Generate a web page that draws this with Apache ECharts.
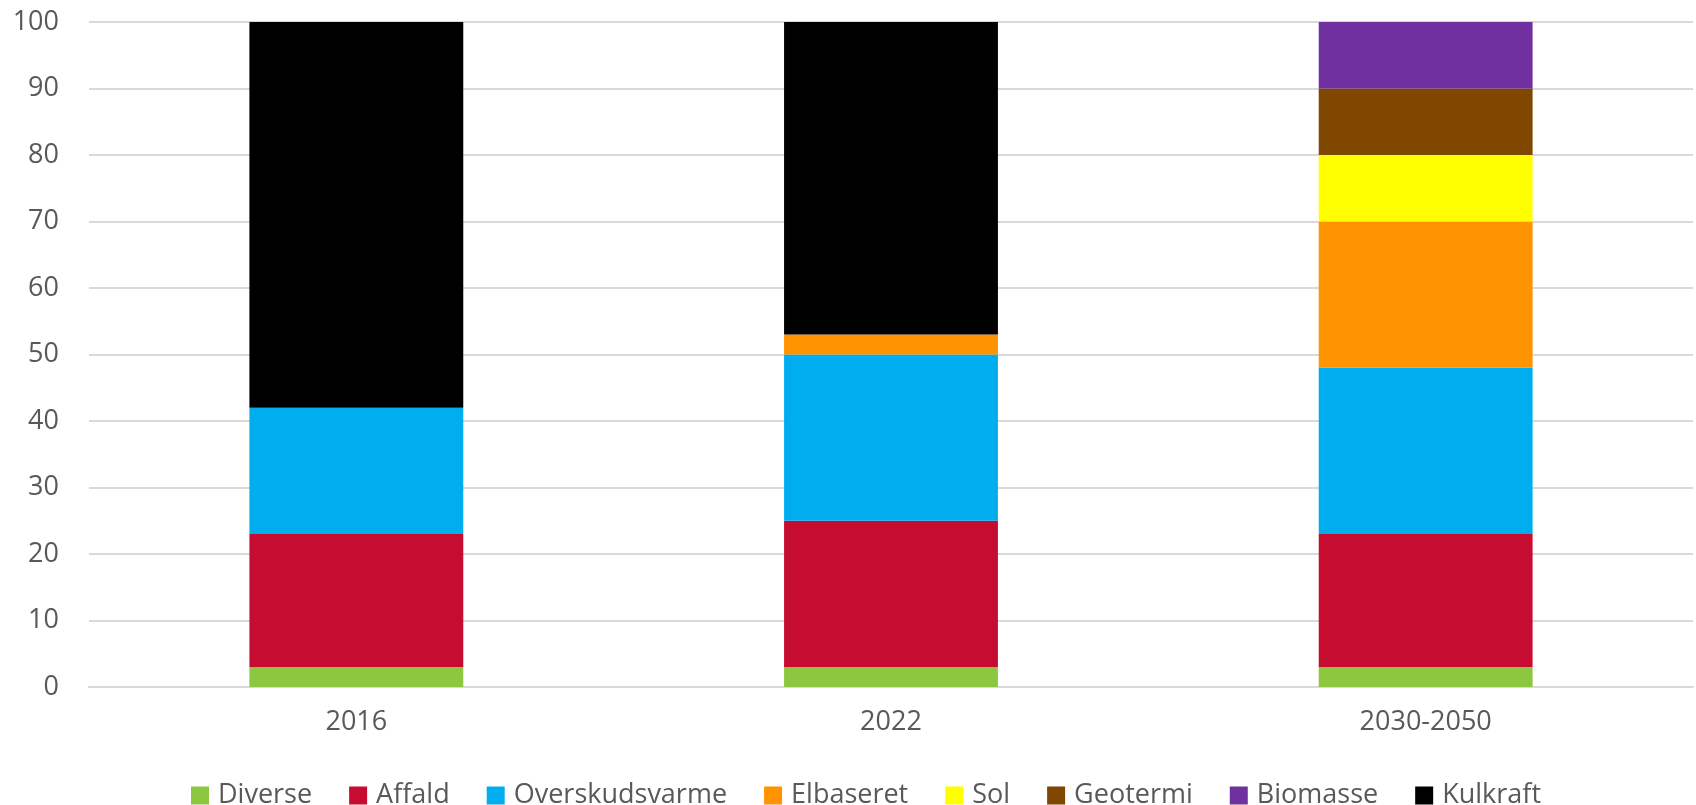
<!DOCTYPE html>
<html>
<head>
<meta charset="utf-8">
<script src="https://cdn.jsdelivr.net/npm/echarts@6/dist/echarts.min.js"></script>
<style>
  html, body { margin: 0; padding: 0; background: #fff; }
  #main { width: 1696px; height: 805px; }
</style>
</head>
<body>
<div id="main"></div>
<script>
// kategorier og værdier (procent)
var categories = ['2016', '2022', '2030-2050'];
var diverse = [3, 3, 3];
var affald = [20, 22, 20];
var overskudsvarme = [19, 25, 25];
var elbaseret = [0, 3, 22];
var sol = [0, 0, 10];
var geotermi = [0, 0, 10];
var biomasse = [0, 0, 10];
var kulkraft = [58, 47, 0];

var seriesNames = ['Diverse', 'Affald', 'Overskudsvarme', 'Elbaseret', 'Sol', 'Geotermi', 'Biomasse', 'Kulkraft'];
var seriesData = [diverse, affald, overskudsvarme, elbaseret, sol, geotermi, biomasse, kulkraft];
var colors = ['#8DC63F', '#C60C30', '#00AEEF', '#FF9300', '#FFFF00', '#7F4700', '#7030A0', '#000000'];

var font = '"Open Sans", Calibri, sans-serif';
var textColor = '#595959';

var series = [];
for (var i = 0; i < seriesNames.length; i++) {
    series.push({
        name: seriesNames[i],
        type: 'bar',
        stack: 'total',
        barCategoryGap: '60%',
        itemStyle: { color: colors[i] },
        emphasis: { disabled: true },
        data: seriesData[i]
    });
}

var mychart = echarts.init(document.getElementById('main'));
var option = {
    animation: false,
    color: colors,
    grid: { left: 89, right: 3, top: 22, bottom: 118 },
    legend: {
        data: seriesNames,
        left: 186,
        top: 777,
        itemWidth: 18,
        itemHeight: 18,
        itemGap: 37,
        icon: 'rect',
        textStyle: { fontFamily: font, fontSize: 27, color: textColor, padding: [0, 0, 0, 4] }
    },
    xAxis: {
        type: 'category',
        data: categories,
        axisLine: { lineStyle: { color: '#D9D9D9', width: 2 } },
        axisTick: { show: false },
        axisLabel: { fontFamily: font, fontSize: 27, color: textColor, margin: 22 }
    },
    yAxis: {
        type: 'value',
        min: 0,
        max: 100,
        interval: 10,
        axisLine: { show: false },
        axisTick: { show: false },
        splitLine: { lineStyle: { color: '#D9D9D9', width: 2 } },
        axisLabel: { fontFamily: font, fontSize: 27, color: textColor, margin: 30 }
    },
    series: series
};
mychart.setOption(option);
</script>
</body>
</html>
